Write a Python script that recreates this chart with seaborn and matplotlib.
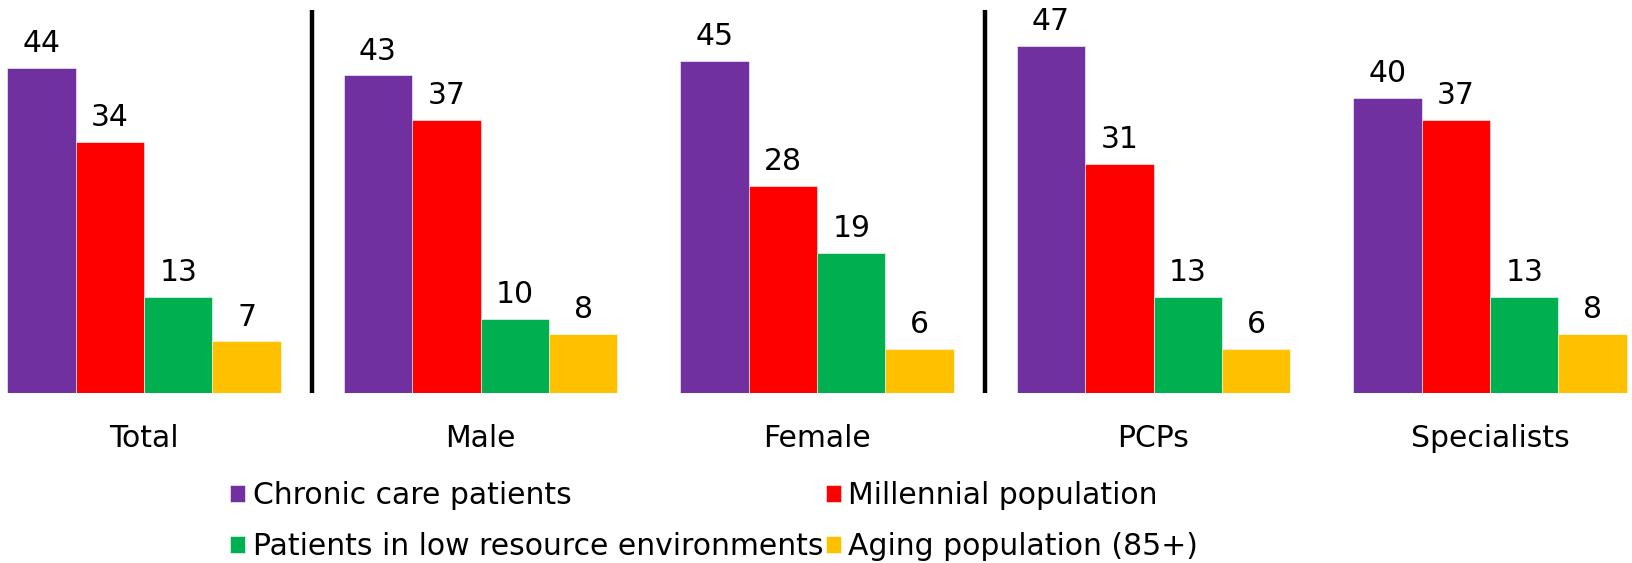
import matplotlib
matplotlib.use("Agg")
import matplotlib.pyplot as plt
import seaborn as sns
import pandas as pd

# %% data
groups = ["Total", "Male", "Female", "PCPs", "Specialists"]
series = ["Chronic care patients", "Millennial population",
          "Patients in low resource environments", "Aging population (85+)"]
chronic = [44, 43, 45, 47, 40]
millennial = [34, 37, 28, 31, 37]
lowres = [13, 10, 19, 13, 13]
aging = [7, 8, 6, 6, 8]
colors = ["#7030A0", "#FF0000", "#00B050", "#FFC000"]

df = pd.DataFrame({"Group": groups * 4,
                   "Series": [s for s in series for _ in groups],
                   "Value": chronic + millennial + lowres + aging})

# %% plot
sns.set_style("white")
plt.rcParams["font.family"] = ["DejaVu Sans"]
plt.rcParams["text.color"] = "black"
plt.rcParams["xtick.color"] = "black"
fs = 21.5
fig = plt.figure(figsize=(16.32, 5.63), dpi=100)
ax = fig.add_axes([0, 0.302, 1, 0.698])
sns.barplot(data=df, x="Group", y="Value", hue="Series", order=groups, hue_order=series,
            palette=colors, width=0.814, gap=0, saturation=1, errorbar=None,
            edgecolor="white", linewidth=0.4, ax=ax)
for c in ax.containers:
    ax.bar_label(c, fmt="%d", padding=7, fontsize=fs, color="black")
ax.set_xlim(-0.428, 4.422)
ax.set_ylim(0, 53.2)
for xv in [0.5, 2.5]:
    ax.plot([xv, xv], [0, 51.8], color="black", lw=3.2, solid_capstyle="butt")
sns.despine(ax=ax, left=True, bottom=True)
ax.set_yticks([])
ax.set_xlabel("")
ax.set_ylabel("")
ax.tick_params(axis="x", length=0, pad=22, labelsize=fs, labelcolor="black")
handles, labels = ax.get_legend_handles_labels()
ax.legend_.remove()
order = [0, 2, 1, 3]
fig.legend([handles[i] for i in order], [labels[i] for i in order], ncol=2,
           loc="upper left", bbox_to_anchor=(0.141, 0.146), frameon=False, fontsize=fs,
           handlelength=0.5, handleheight=0.5, handletextpad=0.25, columnspacing=0.1,
           labelspacing=0.75, borderpad=0, borderaxespad=0)
fig.savefig("out.png", dpi=100)
